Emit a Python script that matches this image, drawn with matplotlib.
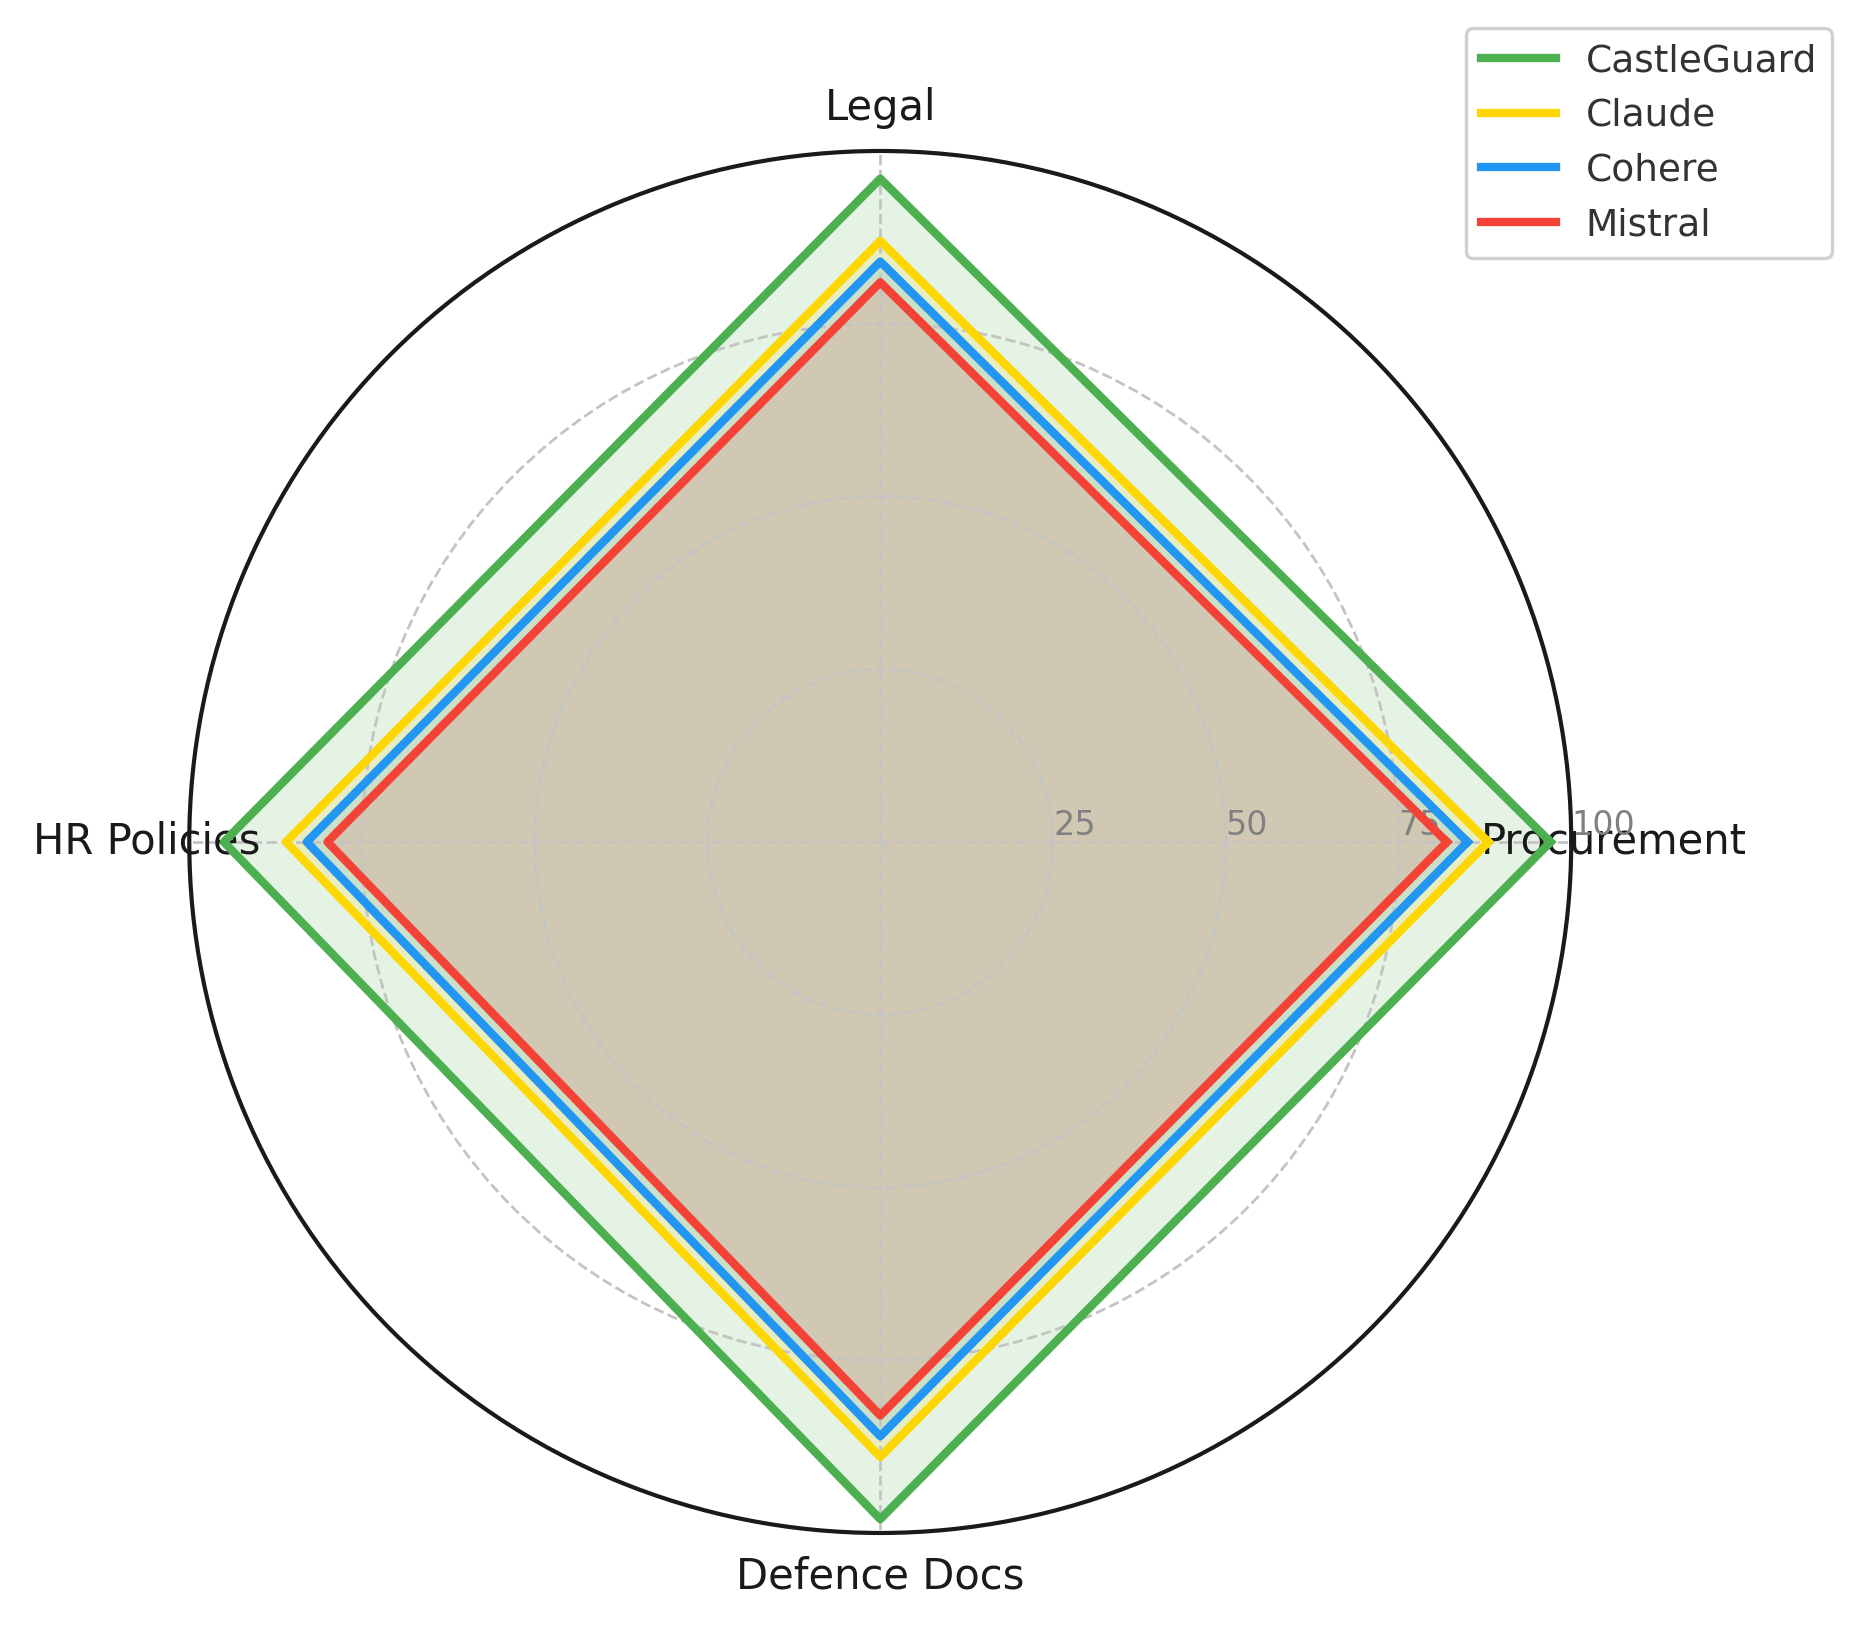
import numpy as np
import matplotlib
matplotlib.use("Agg")
import matplotlib.pyplot as plt

# categories and scores
categories = ["Procurement", "Legal", "HR Policies", "Defence Docs"]
models = ["CastleGuard", "Claude", "Cohere", "Mistral"]
castleguard = [97, 96, 95, 98]
claude = [88, 87, 86, 89]
cohere = [85, 84, 83, 86]
mistral = [82, 81, 80, 83]
colors = ["#4CAF50", "#FFD700", "#2196F3", "#F44336"]

scores = [castleguard, claude, cohere, mistral]

angles = np.linspace(0, 2 * np.pi, len(categories), endpoint=False).tolist()
angles_closed = angles + angles[:1]

fig = plt.figure(figsize=(9.305, 8.15), dpi=200)
ax = fig.add_axes([0.1017, 0.0595, 0.7426, 0.8479], projection="polar")

for name, vals, col in zip(models, scores, colors):
    v = vals + vals[:1]
    ax.plot(angles_closed, v, color=col, linewidth=3, label=name)
    ax.fill(angles_closed, v, color=col, alpha=0.15)

ax.set_ylim(0, 100)
ax.set_yticks([25, 50, 75, 100])
ax.set_yticklabels(["25", "50", "75", "100"], color="gray", fontsize=12)
ax.set_rlabel_position(0)

ax.set_xticks(angles)
ax.set_xticklabels(categories, fontsize=15, color="#1a1a1a")
ax.tick_params(axis="x", pad=5)

ax.grid(True, color="#c4c4c4", linestyle="--", linewidth=1)
ax.spines["polar"].set_color("#1a1a1a")
ax.spines["polar"].set_linewidth(1.5)

leg = fig.legend(loc="upper right", bbox_to_anchor=(0.9844, 0.9828),
                 borderaxespad=0, fontsize=13.5, framealpha=1, fancybox=True)
leg.get_frame().set_edgecolor("#d0d0d0")
leg.get_frame().set_linewidth(1.2)
for t in leg.get_texts():
    t.set_color("#333333")

fig.savefig("out.png", dpi=200)
